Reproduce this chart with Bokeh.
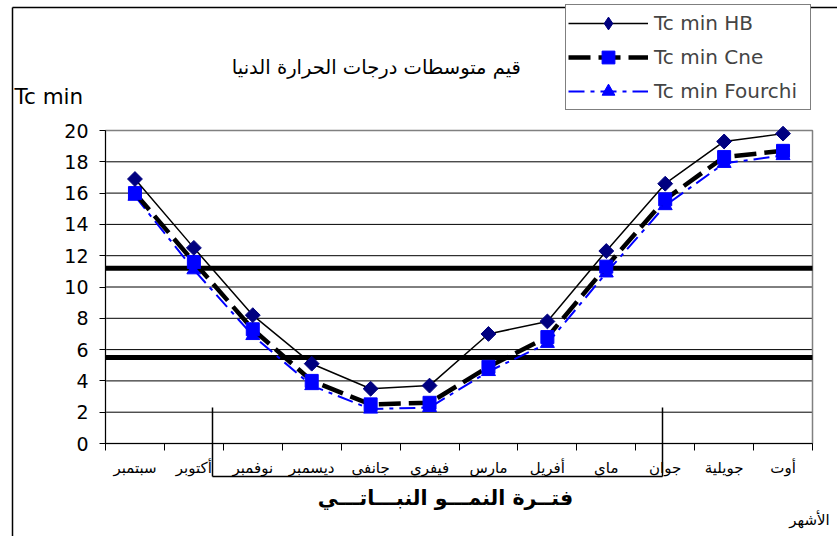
from bokeh.plotting import figure
from bokeh.models import FixedTicker, Label, Arrow, Legend, LegendItem, Range1d
from bokeh.embed import file_html
from bokeh.resources import INLINE

# Monthly mean minimum temperatures (°C), September to August
months = ["سبتمبر", "أكتوبر", "نوفمبر", "ديسمبر", "جانفي", "فيفري",
          "مارس", "أفريل", "ماي", "جوان", "جويلية", "أوت"]
tc_min_hb = [16.9, 12.5, 8.2, 5.1, 3.5, 3.7, 7.0, 7.8, 12.3, 16.6, 19.3, 19.8]
tc_min_cne = [16.0, 11.6, 7.3, 4.0, 2.5, 2.6, 4.9, 6.8, 11.3, 15.6, 18.3, 18.7]
tc_min_fourchi = [15.8, 11.1, 6.9, 3.7, 2.2, 2.3, 4.6, 6.4, 10.9, 15.2, 17.9, 18.4]
thresholds = [11.2, 5.5]
y_ticks = list(range(0, 21, 2))
Y_MAX = 20

AR_FONT = "DejaVu Sans"
LAT_FONT = "DejaVu Sans"

W, H = 837, 536
# plot area inside the canvas (pixels from top-left)
PA_L, PA_T, PA_R, PA_B = 105, 130, 812, 443
N = len(months)
x_per_px = N / (PA_R - PA_L)
y_per_px = Y_MAX / (PA_B - PA_T)


def dx(px):
    """canvas pixel x -> data x"""
    return (px - PA_L) * x_per_px


def dy(py):
    """canvas pixel y -> data y"""
    return (PA_B - py) * y_per_px


p = figure(frame_width=W, frame_height=H, min_border=0,
           x_range=Range1d(dx(0), dx(W)), y_range=Range1d(dy(H), dy(0)),
           output_backend="svg", toolbar_location=None,
           background_fill_color="white", border_fill_color="white")
p.outline_line_color = None
p.xgrid.visible = False
p.ygrid.visible = False

# x axis: month names centred in each slot, tick marks on slot boundaries
xs = [i + 0.5 for i in range(N)]
xa = p.xaxis[0]
xa.fixed_location = 0
xa.bounds = (0, N)
xa.ticker = FixedTicker(ticks=xs, minor_ticks=list(range(N + 1)))
xa.major_label_overrides = {x: m for x, m in zip(xs, months)}
xa.major_tick_out = 0
xa.major_tick_in = 0
xa.minor_tick_out = 7
xa.minor_tick_in = 0
xa.minor_tick_line_color = "black"
xa.major_label_standoff = 8
xa.major_label_text_font = AR_FONT
xa.major_label_text_font_size = "15px"
xa.major_label_text_color = "black"
xa.axis_line_color = "black"

ya = p.yaxis[0]
ya.fixed_location = 0
ya.bounds = (0, Y_MAX)
ya.ticker = FixedTicker(ticks=y_ticks)
ya.major_tick_out = 6
ya.major_tick_in = 0
ya.minor_tick_line_color = None
ya.major_label_standoff = 11
ya.major_label_text_font = LAT_FONT
ya.major_label_text_font_size = "19px"
ya.major_label_text_color = "black"
ya.axis_line_color = "black"

# horizontal grid lines across the plot area, gray border on top/right
p.segment(x0=0, x1=N, y0=y_ticks, y1=y_ticks, line_color="black", line_width=1)
p.quad(left=0, right=N, bottom=0, top=Y_MAX, fill_color=None,
       line_color="#808080", line_width=1.5)

# threshold lines
p.segment(x0=0, x1=N, y0=thresholds, y1=thresholds, line_color="black", line_width=5)

# series
f_line = p.line(xs, tc_min_fourchi, line_color="blue", line_width=2, line_dash="16 6 4 6")
f_pts = p.scatter(xs, tc_min_fourchi, marker="triangle", size=14,
                  fill_color="blue", line_color="blue")
c_line = p.line(xs, tc_min_cne, line_color="black", line_width=4.5, line_dash="22 8")
c_pts = p.scatter(xs, tc_min_cne, marker="square", size=13,
                  fill_color="blue", line_color="blue")
h_line = p.line(xs, tc_min_hb, line_color="black", line_width=1.5)
h_pts = p.scatter(xs, tc_min_hb, marker="square", angle=0.785398, size=10.5,
                  fill_color="#000080", line_color="#000080")
# legend key for the HB markers (markers in a legend are drawn unrotated)
h_key = p.scatter([float("nan")], [float("nan")], marker="diamond", size=10,
                  fill_color="#000080", line_color="#000080")

legend = Legend(items=[
    LegendItem(label="Tc min HB", renderers=[h_line, h_key]),
    LegendItem(label="Tc min Cne", renderers=[c_line, c_pts]),
    LegendItem(label="Tc min Fourchi", renderers=[f_line, f_pts]),
], location=(565, H - 110), margin=0, padding=2, spacing=2,
    glyph_width=80, glyph_height=32, label_height=22, label_standoff=6,
    label_width=154,
    label_text_font=LAT_FONT, label_text_font_size="20px",
    border_line_color="black", border_line_width=1,
    background_fill_color="white", background_fill_alpha=1)
p.add_layout(legend)

# chart frame (top and left edges)
for (x0, y0, x1, y1) in [(12, 7, 12, H + 4), (12, 7, W + 4, 7)]:
    p.add_layout(Arrow(end=None, x_start=dx(x0), y_start=dy(y0), x_end=dx(x1), y_end=dy(y1),
                       line_color="black", line_width=1.5, level="underlay"))

# growth-period bracket
for (x0, y0, x1, y1) in [(212, 407, 212, 476), (662, 407, 662, 476), (212, 476, 662, 476)]:
    p.add_layout(Arrow(end=None, x_start=dx(x0), y_start=dy(y0), x_end=dx(x1), y_end=dy(y1),
                       line_color="black", line_width=1.5))

p.add_layout(Label(x=dx(379), y=dy(67), text="قيم  متوسطات درجات الحرارة الدنيا",
                   text_align="center", text_baseline="middle",
                   text_font=AR_FONT, text_font_size="19.5px", text_color="black"))
p.add_layout(Label(x=dx(14), y=dy(96), text="Tc min",
                   text_align="left", text_baseline="middle",
                   text_font=LAT_FONT, text_font_size="21.5px", text_color="black"))
p.add_layout(Label(x=dx(445), y=dy(497), text="فتــرة النمـــو النبـــاتـــي",
                   text_align="center", text_baseline="middle",
                   text_font=AR_FONT, text_font_size="20.5px", text_font_style="bold",
                   text_color="black"))
p.add_layout(Label(x=dx(809), y=dy(519), text="الأشهر",
                   text_align="center", text_baseline="middle",
                   text_font=AR_FONT, text_font_size="15px", text_color="black"))

open("out.html", "w").write(file_html(p, INLINE))
